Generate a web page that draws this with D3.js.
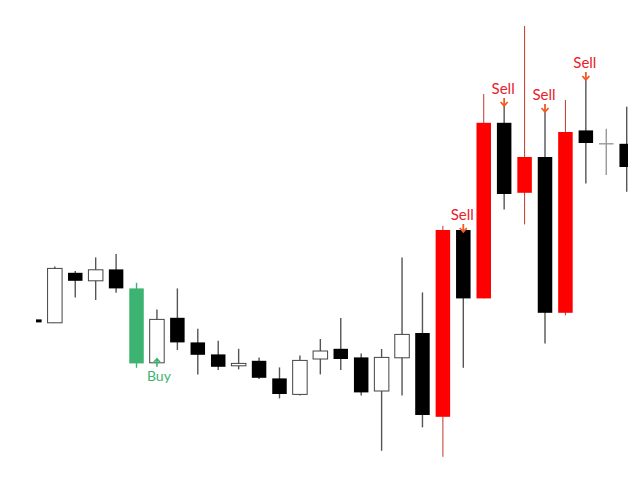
<!DOCTYPE html>
<html>
<head>
<meta charset="utf-8">
<script src="https://cdn.jsdelivr.net/npm/d3@7"></script>
<style>
  body { margin: 0; background: #fff; }
</style>
</head>
<body>
<div id="chart"></div>
<script>
// price data, one entry per bar (arbitrary price units)
var opens  = [90.3, 88.6, 113.6, 109.6, 115.3, 105.8, 68.6, 91.1, 78.8, 72.8,
              67.1, 69.6, 60.8, 52.8, 70.5, 75.6, 71.3, 54.5, 71.1, 83.5,
              41.6, 135.0, 100.8, 188.6, 153.6, 171.5, 93.6, 184.8, 178.1, 178.1];
var highs  = [90.3, 116.8, 114.5, 121.3, 123.0, 108.6, 95.3, 105.8, 85.6, 79.6,
              75.6, 71.3, 66.3, 72.3, 80.5, 91.0, 73.3, 75.5, 121.3, 103.8,
              137.1, 135.0, 203.0, 198.0, 237.0, 195.0, 200.0, 211.0, 185.6, 196.6];
var lows   = [88.8, 88.6, 101.3, 100.0, 103.6, 66.1, 68.6, 75.0, 62.8, 65.0,
              65.3, 60.5, 50.8, 52.3, 62.8, 65.0, 52.3, 24.6, 52.3, 36.3,
              21.6, 66.1, 100.8, 145.3, 137.8, 78.3, 92.3, 158.3, 162.5, 154.1];
var closes = [88.8, 115.8, 109.6, 115.1, 105.8, 68.3, 90.3, 78.8, 72.6, 66.6,
              68.3, 61.1, 53.0, 69.8, 74.5, 70.5, 53.8, 71.3, 82.8, 42.5,
              135.0, 100.8, 188.6, 153.0, 171.5, 93.6, 184.0, 178.5, 178.1, 166.5];

// highlighted bars and signals (bar indices)
var greenBars = [5];
var redBars = [20, 22, 24, 26];
var buySignals = [6];
var sellSignals = [21, 23, 25, 27];

const WIDTH = 640;
const HEIGHT = 480;

var bars = d3.range(opens.length).map(function (i) {
    return { i: i, o: opens[i], h: highs[i], l: lows[i], c: closes[i] };
});

var svg = d3.select("#chart")
    .append("svg")
    .attr("width", WIDTH)
    .attr("height", HEIGHT);

svg.append("rect")
    .attr("width", WIDTH)
    .attr("height", HEIGHT)
    .attr("fill", "#fff");

var xScale = d3.scalePoint().domain(d3.range(bars.length)).range([34.4, 626.7]),
    yScale = d3.scaleLinear().domain([0, 250]).range([500, 0]);

var bodyW = xScale.step() * 0.71;

// the picture is cropped on both sides
svg.append("clipPath")
    .attr("id", "crop")
    .append("rect")
    .attr("x", 36)
    .attr("y", 0)
    .attr("width", 592)
    .attr("height", HEIGHT);

var plot = svg.append("g").attr("clip-path", "url(#crop)");

function kind(d) {
    if (greenBars.indexOf(d.i) >= 0) return "green";
    if (redBars.indexOf(d.i) >= 0) return "red";
    if (d.o === d.c) return "doji";
    return d.c > d.o ? "up" : "down";
}

var wickColor = { green: "#3cb371", red: "#c0392b", doji: "#999", up: "#555", down: "#555" };
var fillColor = { green: "#3cb371", red: "#ff0000", doji: "none", up: "#fff", down: "#000" };

// wicks
plot.selectAll(".wick")
    .data(bars)
    .enter()
    .append("line")
    .attr("class", "wick")
    .attr("x1", function (d) { return xScale(d.i); })
    .attr("x2", function (d) { return xScale(d.i); })
    .attr("y1", function (d) { return yScale(d.h); })
    .attr("y2", function (d) { return yScale(d.l); })
    .attr("stroke", function (d) { return wickColor[kind(d)]; })
    .attr("stroke-width", function (d) { return kind(d) === "red" ? 1 : 1.4; });

// bodies
plot.selectAll(".body")
    .data(bars.filter(function (d) { return kind(d) !== "doji"; }))
    .enter()
    .append("rect")
    .attr("class", "body")
    .attr("x", function (d) { return xScale(d.i) - bodyW / 2; })
    .attr("y", function (d) { return yScale(Math.max(d.o, d.c)); })
    .attr("width", bodyW)
    .attr("height", function (d) { return Math.max(1.5, Math.abs(yScale(d.o) - yScale(d.c))); })
    .attr("fill", function (d) { return fillColor[kind(d)]; })
    .attr("stroke", function (d) { return kind(d) === "up" ? "#444" : "none"; })
    .attr("stroke-width", 1);

// doji ticks
plot.selectAll(".doji")
    .data(bars.filter(function (d) { return kind(d) === "doji"; }))
    .enter()
    .append("line")
    .attr("class", "doji")
    .attr("x1", function (d) { return xScale(d.i) - bodyW / 2; })
    .attr("x2", function (d) { return xScale(d.i) + bodyW / 2; })
    .attr("y1", function (d) { return yScale(d.o); })
    .attr("y2", function (d) { return yScale(d.o); })
    .attr("stroke", "#999")
    .attr("stroke-width", 1.4);

// sell signals
var sells = bars.filter(function (d) { return sellSignals.indexOf(d.i) >= 0; });

svg.selectAll(".sell-arrow")
    .data(sells)
    .enter()
    .append("path")
    .attr("class", "sell-arrow")
    .attr("d", function (d) {
        var x = xScale(d.i), tip = yScale(d.h) + 2;
        return "M" + x + "," + (tip - 8) + "L" + x + "," + tip +
               "M" + (x - 3.5) + "," + (tip - 4) + "L" + x + "," + tip + "L" + (x + 3.5) + "," + (tip - 4);
    })
    .attr("fill", "none")
    .attr("stroke", "#f05a24")
    .attr("stroke-width", 1.8);

svg.selectAll(".sell-text")
    .data(sells)
    .enter()
    .append("text")
    .attr("class", "sell-text")
    .attr("x", function (d) { return xScale(d.i) - 1; })
    .attr("y", function (d) { return yScale(d.h) - 10; })
    .attr("text-anchor", "middle")
    .style("font-family", "Lato, sans-serif")
    .style("font-size", "15px")
    .attr("fill", "#e8202a")
    .text("Sell");

// buy signals
var buys = bars.filter(function (d) { return buySignals.indexOf(d.i) >= 0; });

svg.selectAll(".buy-arrow")
    .data(buys)
    .enter()
    .append("path")
    .attr("class", "buy-arrow")
    .attr("d", function (d) {
        var x = xScale(d.i), tip = yScale(d.l) - 4;
        return "M" + x + "," + (tip + 8) + "L" + x + "," + tip +
               "M" + (x - 3.5) + "," + (tip + 4) + "L" + x + "," + tip + "L" + (x + 3.5) + "," + (tip + 4);
    })
    .attr("fill", "none")
    .attr("stroke", "#3cb371")
    .attr("stroke-width", 1.6);

svg.selectAll(".buy-text")
    .data(buys)
    .enter()
    .append("text")
    .attr("class", "buy-text")
    .attr("x", function (d) { return xScale(d.i) + 2; })
    .attr("y", function (d) { return yScale(d.l) + 18; })
    .attr("text-anchor", "middle")
    .style("font-family", "Lato, sans-serif")
    .style("font-size", "14px")
    .attr("fill", "#3cb371")
    .text("Buy");
</script>
</body>
</html>
